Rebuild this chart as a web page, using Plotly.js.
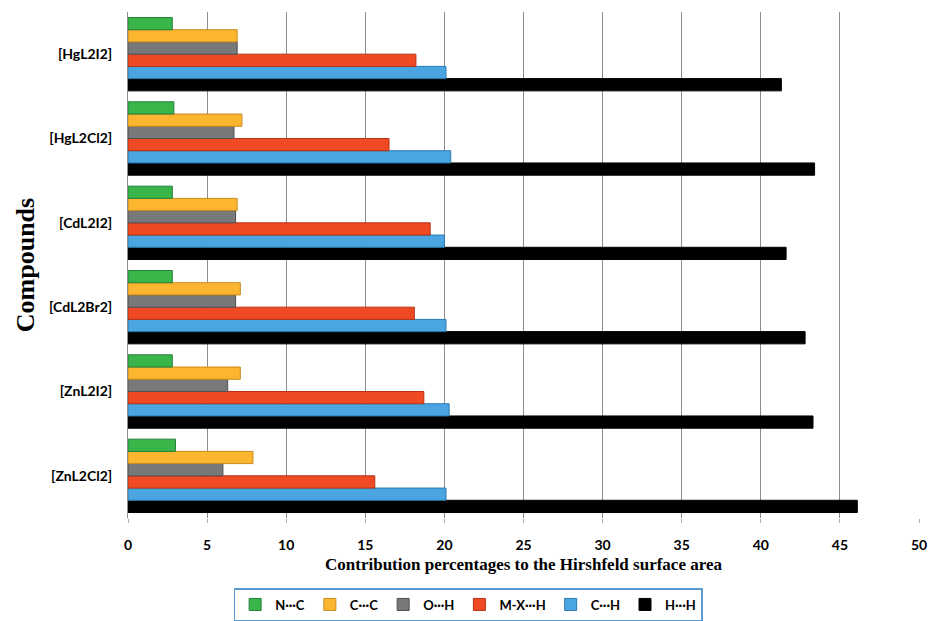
<!DOCTYPE html>
<html>
<head>
<meta charset="utf-8">
<script src="https://cdn.plot.ly/plotly-3.0.1.min.js"></script>
<style>html,body{margin:0;padding:0;background:#fff;}#chart{width:928px;height:621px;}</style>
</head>
<body>
<div id="chart"></div>
<script>
// Categories (bottom to top)
const compounds = ['[ZnL2Cl2]', '[ZnL2I2]', '[CdL2Br2]', '[CdL2I2]', '[HgL2Cl2]', '[HgL2I2]'];

// Series values, same order as compounds
const NC  = [3.0, 2.8, 2.8, 2.8, 2.9, 2.8];
const CC  = [7.9, 7.1, 7.1, 6.9, 7.2, 6.9];
const OH  = [6.0, 6.3, 6.8, 6.8, 6.7, 6.9];
const MXH = [15.6, 18.7, 18.1, 19.1, 16.5, 18.2];
const CH  = [20.1, 20.3, 20.1, 20.0, 20.4, 20.1];
const HH  = [46.1, 43.3, 42.8, 41.6, 43.4, 41.3];

const xTicks = [0, 5, 10, 15, 20, 25, 30, 35, 40, 45, 50];

const seriesNames = ['N\u00B7\u00B7\u00B7C', 'C\u00B7\u00B7\u00B7C', 'O\u00B7\u00B7\u00B7H', 'M-X\u00B7\u00B7\u00B7H', 'C\u00B7\u00B7\u00B7H', 'H\u00B7\u00B7\u00B7H'];
const seriesData = [NC, CC, OH, MXH, CH, HH];
const fillColors = ['#3ab54a', '#fbb52f', '#78797b', '#ef4a24', '#4aa5e0', '#000000'];
const edgeColors = ['#23803a', '#c98a1c', '#4f5052', '#b83214', '#2a7ab0', '#000000'];

// Plotly draws the first trace at the bottom of each group: add in reverse order
const traces = [];
for (let i = seriesNames.length - 1; i >= 0; i--) {
  traces.push({
    type: 'bar',
    orientation: 'h',
    name: seriesNames[i],
    y: compounds,
    x: seriesData[i],
    marker: {color: fillColors[i], line: {color: edgeColors[i], width: 1}},
    hoverinfo: 'x+name'
  });
}

const layout = {
  width: 928,
  height: 621,
  margin: {l: 128, r: 9, t: 12, b: 103},
  paper_bgcolor: '#ffffff',
  plot_bgcolor: '#ffffff',
  barmode: 'group',
  bargap: 0.13,
  bargroupgap: 0,
  font: {family: 'Lato, "Open Sans", sans-serif', color: '#000'},
  xaxis: {
    range: [0, 50],
    tickvals: xTicks,
    ticktext: xTicks.map(String),
    showgrid: true,
    gridcolor: '#8c8c8c',
    gridwidth: 1,
    zeroline: false,
    showline: false,
    ticks: 'outside',
    ticklen: 4,
    tickcolor: '#aaaaaa',
    ticklabelstandoff: 10,
    tickfont: {family: 'Lato, sans-serif', size: 14, weight: 'bold', color: '#000'},
    title: {
      text: 'Contribution percentages to the Hirshfeld surface area',
      font: {family: '"Liberation Serif", "Times New Roman", serif', size: 17, weight: 'bold', color: '#000'},
      standoff: 6
    },
    automargin: false,
    fixedrange: true
  },
  yaxis: {
    type: 'category',
    categoryorder: 'array',
    categoryarray: compounds,
    showgrid: false,
    zeroline: false,
    showline: true,
    linecolor: '#8c8c8c',
    linewidth: 1,
    ticks: '',
    ticklabelstandoff: 12,
    tickfont: {family: 'Lato, sans-serif', size: 14, weight: 'bold', color: '#000'},
    title: {
      text: 'Compounds',
      font: {family: '"Liberation Serif", "Times New Roman", serif', size: 26, weight: 'bold', color: '#000'},
      standoff: 6
    },
    automargin: false,
    fixedrange: true
  },
  showlegend: true,
  legend: {
    orientation: 'h',
    traceorder: 'reversed',
    xref: 'paper',
    x: 0.43,
    xanchor: 'center',
    yref: 'container',
    y: 0.0,
    yanchor: 'bottom',
    bordercolor: '#5b9bd5',
    borderwidth: 1.5,
    bgcolor: '#ffffff',
    font: {family: 'Lato, sans-serif', size: 13, weight: 'bold', color: '#000'},
    itemwidth: 30,
    tracegroupgap: 0
  }
};

Plotly.newPlot('chart', traces, layout, {displayModeBar: false, staticPlot: true});
</script>
</body>
</html>
